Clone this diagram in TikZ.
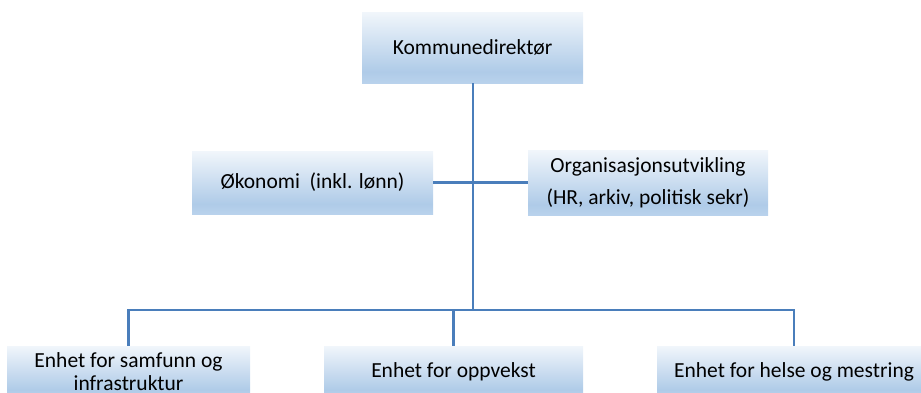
\documentclass[tikz,border=0pt]{standalone}
\usepackage{fontspec}
\setmainfont{Carlito}
\definecolor{bftop}{HTML}{F1F6FB}
\definecolor{bfmid}{HTML}{AFCBE8}
\definecolor{bfbot}{HTML}{B9D2EC}
\definecolor{lineblue}{HTML}{4A7EBB}
\pgfdeclareverticalshading{boxshade}{100bp}{color(0bp)=(bfbot); color(25bp)=(bfbot); color(33bp)=(bfmid); color(75bp)=(bftop); color(100bp)=(bftop)}
\begin{document}
\begin{tikzpicture}[x=1pt,y=-1pt,
  unitbox/.style={shading=boxshade, draw=none, inner sep=0pt, align=center,
    font=\fontsize{21.5}{30}\selectfont},
  conn/.style={draw=lineblue, line width=2.5pt}]
\useasboundingbox (0,0) rectangle (921,392);
\node[unitbox, minimum width=221pt, minimum height=71pt] (kd) at (472.5,47.5) {Kommunedirektør};
\node[unitbox, minimum width=241pt, minimum height=63pt] (okon) at (312.5,182.5) {Økonomi\ \ (inkl. lønn)};
\node[unitbox, minimum width=240pt, minimum height=65pt, font=\fontsize{21.5}{32}\selectfont] (org) at (648,182.5) {Organisasjonsutvikling\\(HR, arkiv, politisk sekr)};
\node[unitbox, minimum width=243pt, minimum height=52pt, font=\fontsize{21.5}{23}\selectfont] (b1) at (128.5,372) {Enhet for samfunn og\\infrastruktur};
\node[unitbox, minimum width=259pt, minimum height=52pt] (b2) at (453.5,372) {Enhet for oppvekst};
\node[unitbox, minimum width=274pt, minimum height=52pt] (b3) at (794,372) {Enhet for helse og mestring};
\coordinate (bus) at (473,310);
\draw[conn] (kd.south -| bus) -- (bus);
\draw[conn] (okon.east) -- (org.west);
\draw[conn] (b1.north) |- (bus) -| (b3.north);
\draw[conn] (b2.north) -- (b2.north |- bus);
\end{tikzpicture}
\end{document}
